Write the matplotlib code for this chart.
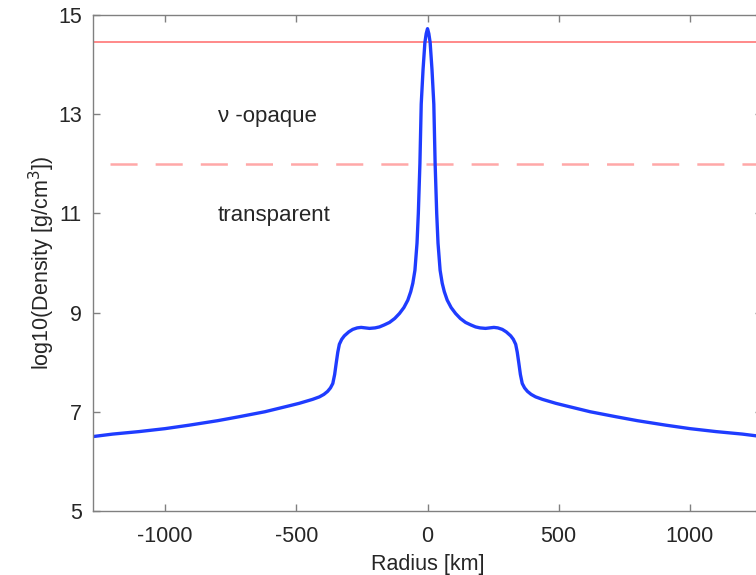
import matplotlib.pyplot as plt
import numpy as np

plt.rcParams['font.family'] = ['Liberation Sans', 'DejaVu Sans']
plt.rcParams['lines.scale_dashes'] = False
plt.rcParams['axes.unicode_minus'] = False

# density profile (radius in km, log10 density)
radius = [-1290, -1200, -1100, -1000, -908, -800, -718, -620, -527, -489,
          -438, -412, -395, -381, -370, -361, -354, -348, -342, -336, -327,
          -317, -300, -285, -268, -253, -237, -221, -200, -183, -165, -145,
          -125, -107, -90, -75, -64, -56, -48, -40, -35, -29, -24, -17, -10,
          -5, 0,
          5, 10, 17, 24, 29, 35, 40, 48, 56, 64, 75, 90, 107, 125, 145, 165,
          183, 200, 221, 237, 253, 268, 285, 300, 317, 327, 336, 342, 348,
          354, 361, 370, 381, 395, 412, 438, 489, 527, 620, 718, 800, 908,
          1000, 1100, 1200, 1290]
log_rho = [6.49, 6.55, 6.60, 6.66, 6.73, 6.82, 6.90, 7.00, 7.12, 7.17,
           7.25, 7.30, 7.35, 7.41, 7.48, 7.57, 7.75, 7.98, 8.20, 8.36, 8.46,
           8.53, 8.61, 8.66, 8.69, 8.70, 8.69, 8.68, 8.69, 8.71, 8.75, 8.80,
           8.88, 8.98, 9.10, 9.25, 9.42, 9.59, 9.85, 10.4, 11.0, 12.0, 13.2,
           13.9, 14.44, 14.62, 14.72,
           14.62, 14.44, 13.9, 13.2, 12.0, 11.0, 10.4, 9.85, 9.59, 9.42, 9.25,
           9.10, 8.98, 8.88, 8.80, 8.75, 8.71, 8.69, 8.68, 8.69, 8.70, 8.69,
           8.66, 8.61, 8.53, 8.46, 8.36, 8.20, 7.98, 7.75, 7.57, 7.48, 7.41,
           7.35, 7.30, 7.25, 7.17, 7.12, 7.00, 6.90, 6.82, 6.73, 6.66, 6.60,
           6.55, 6.49]

nuclear = 14.45   # solid red line
trapping = 12.0   # dashed red line
xlim = (-1275, 1275)
ylim = (5, 15)
xticks = [-1000, -500, 0, 500, 1000]
yticks = [5, 7, 9, 11, 13, 15]

fig = plt.figure(figsize=(7.56, 5.75), dpi=100)
# right edge of the axes falls just outside the picture, as in the original
ax = fig.add_axes([0.123, 0.1113, 0.885, 0.863])

ax.axhline(nuclear, color='#ff8080', lw=1.3, zorder=1)
ax.plot([-1210, 1275], [trapping, trapping], color='#ffa8a8', lw=1.8,
        dashes=(19.5, 13), zorder=1)
ax.plot(radius, log_rho, color='#1f3cff', lw=2.4,
        solid_joinstyle='round', solid_capstyle='round', zorder=2)

ax.text(-800, 12.95, 'ν -opaque', fontsize=16, color='#262626', va='center')
ax.text(-800, 10.95, 'transparent', fontsize=16, color='#262626', va='center')

ax.set_xlim(xlim)
ax.set_ylim(ylim)
ax.set_xticks(xticks)
ax.set_yticks(yticks)
ax.tick_params(direction='in', length=5, width=1, color='#808080',
               labelsize=15.5, labelcolor='#262626', top=True, right=True)
ax.tick_params(axis='x', pad=11)
ax.tick_params(axis='y', pad=8)
for s in ax.spines.values():
    s.set_color('#808080')
    s.set_linewidth(1)

ax.set_xlabel('Radius [km]', fontsize=15.5, color='#262626', labelpad=5)
ax.set_ylabel(r'log10(Density [g/cm$^3$])', fontsize=15.5, color='#262626',
              labelpad=1)

plt.savefig('out.png', dpi=100)
